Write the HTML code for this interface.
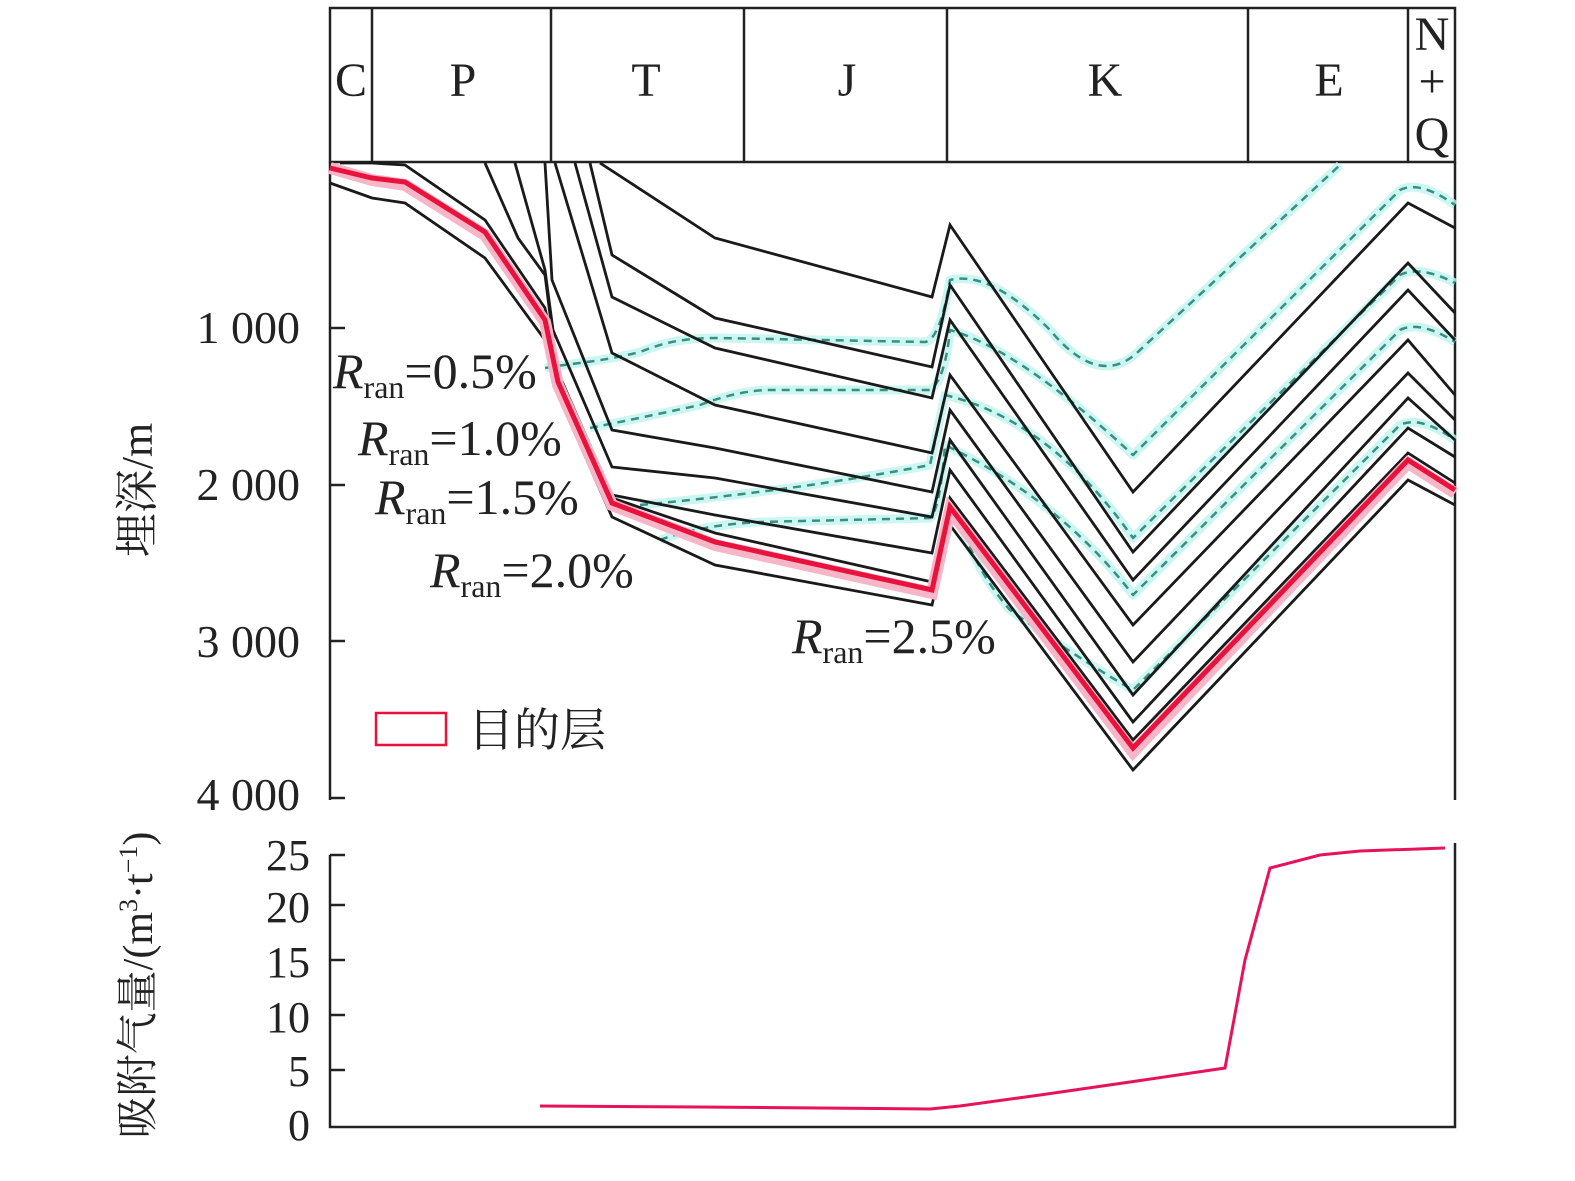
<!DOCTYPE html>
<html><head><meta charset="utf-8"><style>
html,body{margin:0;padding:0;background:#fff;overflow:hidden}
svg{display:block}
svg text{font-family:"Liberation Serif","Noto Serif CJK SC",serif;fill:#222}
</style></head><body>
<svg width="1575" height="1181" viewBox="0 0 1575 1181" xmlns="http://www.w3.org/2000/svg">
<rect width="1575" height="1181" fill="#fff"/>
<g stroke="#222" stroke-width="2.5" fill="none">
<path d="M330,8H1455V162H330Z"/>
<path d="M372,8V162M551,8V162M744,8V162M947,8V162M1248,8V162M1408,8V162"/>
<path d="M330,162V800M1455,162V800"/>
<path d="M330,328H345M330,485H345M330,641H345M330,798H345"/>
</g>
<g font-size="48" text-anchor="middle">
<text x="351" y="96">C</text><text x="463" y="96">P</text><text x="646" y="96">T</text>
<text x="847" y="96">J</text><text x="1105" y="96">K</text><text x="1329" y="96">E</text>
<text x="1432" y="50">N</text><text x="1432" y="97">+</text><text x="1432" y="150">Q</text>
</g>
<g font-size="46" text-anchor="end">
<text x="300" y="343">1 000</text><text x="300" y="500">2 000</text>
<text x="300" y="657">3 000</text><text x="300" y="810">4 000</text>
</g>
<text transform="translate(152,490) rotate(-90)" font-size="44" text-anchor="middle">埋深/m</text>
<g fill="none" stroke-linejoin="round">
<g stroke="#bff5f0" stroke-width="9" opacity="0.8">
<path d="M545,368 C580,362 600,362 640,352 C670,340 690,338 720,338 L925,342 Q940,340 950,280 Q990,270 1050,330 Q1100,390 1140,350 L1340,165"/>
<path d="M590,428 Q640,418 700,405 Q740,390 770,390 L930,390 Q945,380 950,330 Q1020,350 1133,455 L1400,190 Q1420,180 1455,205"/>
<path d="M640,505 Q800,490 930,465 L945,395 Q1050,420 1133,538 L1400,275 Q1420,265 1455,283"/>
<path d="M660,540 Q700,525 760,522 L930,518 Q940,510 945,445 Q1060,500 1133,595 L1400,330 Q1420,320 1455,342"/>
<path d="M960,520 Q975,570 1010,610 Q1080,660 1133,690 L1400,425 Q1420,415 1455,440"/>
</g>
<g stroke="#3a8f80" stroke-width="2.5" stroke-dasharray="8,6">
<path d="M545,368 C580,362 600,362 640,352 C670,340 690,338 720,338 L925,342 Q940,340 950,280 Q990,270 1050,330 Q1100,390 1140,350 L1340,165"/>
<path d="M590,428 Q640,418 700,405 Q740,390 770,390 L930,390 Q945,380 950,330 Q1020,350 1133,455 L1400,190 Q1420,180 1455,205"/>
<path d="M640,505 Q800,490 930,465 L945,395 Q1050,420 1133,538 L1400,275 Q1420,265 1455,283"/>
<path d="M660,540 Q700,525 760,522 L930,518 Q940,510 945,445 Q1060,500 1133,595 L1400,330 Q1420,320 1455,342"/>
<path d="M960,520 Q975,570 1010,610 Q1080,660 1133,690 L1400,425 Q1420,415 1455,440"/>
</g>
</g>
<g fill="none" stroke="#1a1a1a" stroke-width="2.8" stroke-linejoin="miter">
<path d="M600,163 L715,238 L932,297 L950,225 L1133,492 L1408,203 L1455,228"/>
<path d="M590,163 L612,255 L715,318 L932,367 L950,285 L1133,552 L1408,263 L1455,313"/>
<path d="M575,163 L612,297 L715,348 L932,398 L950,320 L1133,580 L1408,290 L1455,340"/>
<path d="M555,163 L612,353 L715,405 L932,453 L950,375 L1133,625 L1408,340 L1455,395"/>
<path d="M545,163 L552,280 L612,430 L715,448 L932,492 L950,410 L1133,662 L1408,373 L1455,420"/>
<path d="M515,163 L545,270 L553,330 L612,467 L715,478 L932,517 L950,440 L1133,695 L1408,398 L1455,440"/>
<path d="M485,163 L518,238 L545,275 L557,370 L612,495 L715,515 L932,553 L950,470 L1133,722 L1408,428 L1455,457"/>
<path d="M340,163 L372,163 L405,165 L485,220 L545,308 L558,372 L612,498 L715,533 L932,582 L950,498 L1133,740 L1408,453 L1455,483"/>
<path d="M330,183 L372,198 L405,203 L485,258 L545,340 L558,395 L612,517 L715,565 L932,605 L950,525 L1133,770 L1408,480 L1455,505"/>
</g>
<g fill="none" stroke-linejoin="miter">
<path d="M330,168 L372,180 L405,185 L485,235 L545,322 L558,385 L612,505 L715,545 L932,593 L950,510 L1133,752 L1408,463 L1455,493" stroke="#f7b6c8" stroke-width="12"/>
<path d="M330,168 L372,178 L405,182 L485,232 L545,320 L558,382 L612,503 L715,542 L932,590 L950,507 L1133,748 L1408,460 L1455,490" stroke="#e8123c" stroke-width="5"/>
</g>
<g font-size="50">
<text x="333" y="388"><tspan font-style="italic">R</tspan><tspan font-size="32" dy="10">ran</tspan><tspan dy="-10">=0.5%</tspan></text>
<text x="358" y="455"><tspan font-style="italic">R</tspan><tspan font-size="32" dy="10">ran</tspan><tspan dy="-10">=1.0%</tspan></text>
<text x="375" y="514"><tspan font-style="italic">R</tspan><tspan font-size="32" dy="10">ran</tspan><tspan dy="-10">=1.5%</tspan></text>
<text x="430" y="587"><tspan font-style="italic">R</tspan><tspan font-size="32" dy="10">ran</tspan><tspan dy="-10">=2.0%</tspan></text>
<text x="792" y="653"><tspan font-style="italic">R</tspan><tspan font-size="32" dy="10">ran</tspan><tspan dy="-10">=2.5%</tspan></text>
</g>
<rect x="376" y="713" width="70" height="32" fill="none" stroke="#e8123c" stroke-width="2.5"/>
<text x="468" y="746" font-size="46">目的层</text>
<g stroke="#222" stroke-width="2.5" fill="none">
<path d="M330,855V1127H1455V843"/>
<path d="M330,855H345M330,905H345M330,960H345M330,1015H345M330,1070H345"/>
</g>
<g font-size="44" text-anchor="end">
<text x="310" y="870">25</text><text x="310" y="922">20</text><text x="310" y="977">15</text>
<text x="310" y="1032">10</text><text x="310" y="1086">5</text><text x="310" y="1140">0</text>
</g>
<text transform="translate(152,985) rotate(-90)" font-size="42" text-anchor="middle">吸附气量/(m<tspan font-size="26" dy="-15">3</tspan><tspan dy="15">·t</tspan><tspan font-size="26" dy="-15">−1</tspan><tspan dy="15">)</tspan></text>
<path d="M540,1106 L700,1107 L930,1109 L960,1106 L1040,1095 L1130,1082 L1225,1068 L1245,960 L1270,868 L1320,855 L1360,851 L1445,848" fill="none" stroke="#e8125a" stroke-width="3"/>
</svg>
</body></html>
